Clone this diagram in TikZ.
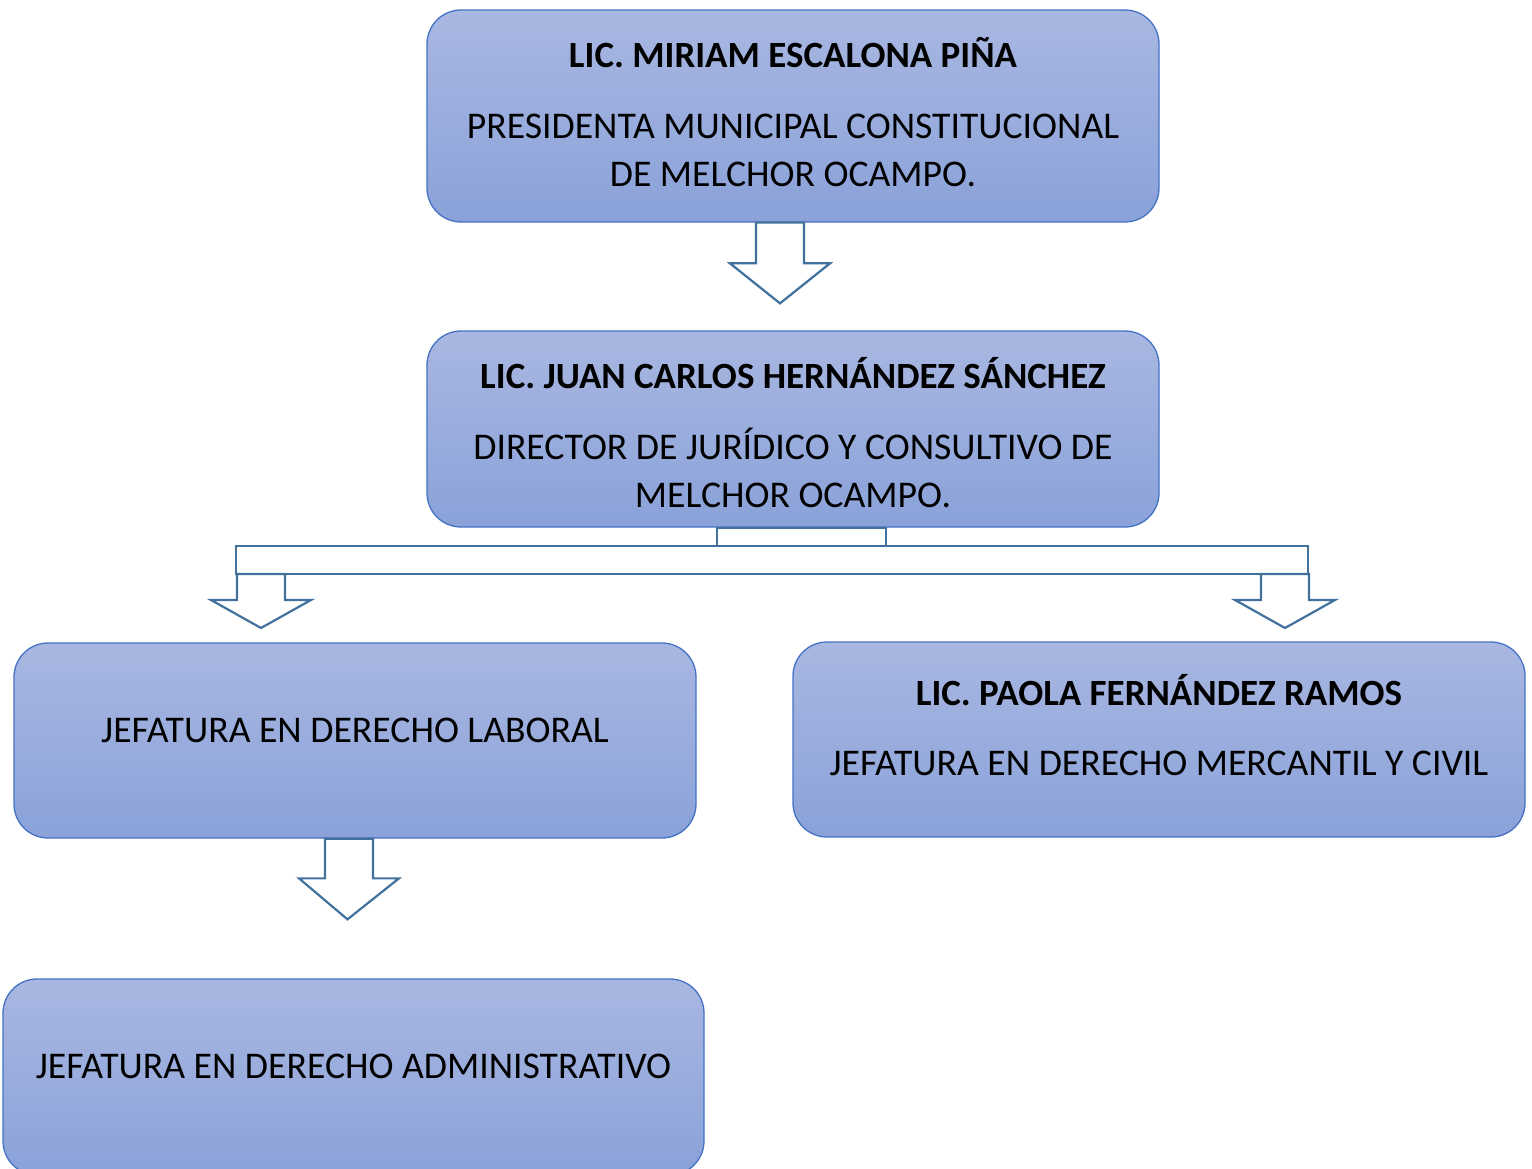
\documentclass[tikz,border=0pt]{standalone}
\usepackage{fontspec}
\setmainfont{Carlito}
\usetikzlibrary{positioning,calc}
\definecolor{boxtop}{HTML}{A9B7E1}
\definecolor{boxbot}{HTML}{8AA2D9}
\definecolor{boxline}{HTML}{4472C4}
\definecolor{arrowline}{HTML}{41719C}
\tikzset{
	cargo/.style={
		rectangle,
		rounded corners=34pt,
		draw=boxline,
		line width=1.3pt,
		top color=boxtop,
		bottom color=boxbot,
		minimum width=732pt,
		minimum height=196pt,
	},
	texto/.style={
		align=center,
		inner sep=0pt,
		font=\fontsize{37.7}{48}\selectfont,
	},
	flecha/.style={
		draw=arrowline,
		line width=2.2pt,
		fill=white,
		line join=miter,
	},
}
% block arrow: #1 top of shaft, #2 tip, #3 head height
\newcommand{\flechaabajo}[3]{%
	\draw[flecha] let \p1=(#1), \p2=(#2) in
		(\x1-24pt,\y1) -- (\x1+24pt,\y1) -- (\x1+24pt,\y2+#3pt) -- (\x1+50pt,\y2+#3pt)
		-- (\x2,\y2) -- (\x1-50pt,\y2+#3pt) -- (\x1-24pt,\y2+#3pt) -- cycle;
}

\begin{document}
\begin{tikzpicture}[x=1pt,y=-1pt]
	\useasboundingbox (0,0) rectangle (1532,1169);
	\clip (0,0) rectangle (1532,1169);

	% cargos
	\node [cargo,minimum height=212pt] (presidenta) at (793,116) {};
	\node [texto] (presidenta-txt) at (793,112) {\textbf{\fontsize{37}{48}\selectfont LIC. MIRIAM ESCALONA PIÑA}\\[23pt]
		PRESIDENTA MUNICIPAL CONSTITUCIONAL\\ DE MELCHOR OCAMPO.};

	\node [cargo] (director) at (793,429) {};
	\node [texto] (director-txt) at (793,432.5) {\textbf{\fontsize{37}{48}\selectfont LIC. JUAN CARLOS HERNÁNDEZ SÁNCHEZ}\\[23pt]
		DIRECTOR DE JURÍDICO Y CONSULTIVO DE\\ MELCHOR OCAMPO.};

	\node [cargo,minimum width=682pt,minimum height=195pt] (laboral) at (355,740.5) {};
	\node [texto] (laboral-txt) at (355,730.5) {JEFATURA EN DERECHO LABORAL};

	\node [cargo,minimum height=195pt] (mercantil) at (1159,739.5) {};
	\node [texto] (mercantil-txt) at (1159,725) {\textbf{\fontsize{37}{48}\selectfont LIC. PAOLA FERNÁNDEZ RAMOS}\\[22pt]
		JEFATURA EN DERECHO MERCANTIL Y CIVIL};

	\node [cargo,minimum width=701pt] (administrativo) at (353.5,1077) {};
	\node [texto] (administrativo-txt) at (353.5,1066) {JEFATURA EN DERECHO ADMINISTRATIVO};

	% flechas
	\flechaabajo{$(presidenta.south)+(-13,0)$}{$(director.north)+(-13,-27)$}{40}
	\draw[flecha] ($(director.south)+(-76,0)$) rectangle ($(director.south)+(93,19)$);
	\draw[flecha] (236,546) rectangle (1308,574);
	\flechaabajo{261,574}{261,628}{28}
	\flechaabajo{1285,574}{1285,628}{28}
	\flechaabajo{$(laboral.south)+(-6,0)$}{$(administrativo.north)+(-6,-59)$}{41}
\end{tikzpicture}
\end{document}
